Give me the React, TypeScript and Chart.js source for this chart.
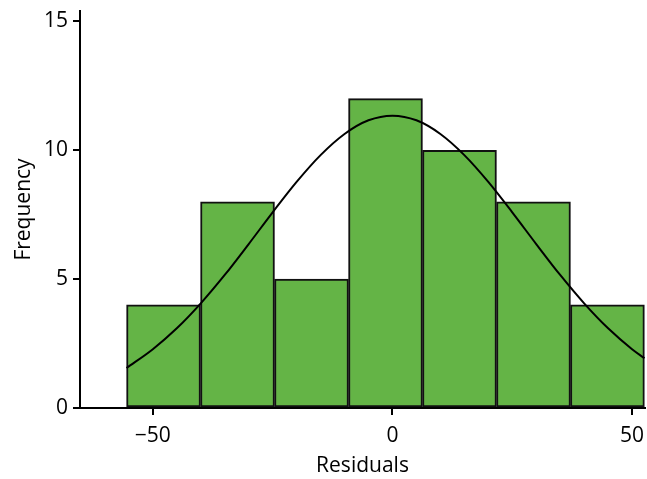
import React, { useEffect, useRef } from "react";
import { Chart, registerables } from "chart.js";

Chart.register(...registerables);

// Histogram bins (residual edges) and frequencies
const binEdges = [-55.49, -40.05, -24.61, -9.17, 6.27, 21.71, 37.15, 52.57];
const frequencies = [4, 8, 5, 12, 10, 8, 4];

// Fitted normal curve
const curveX = [-55.5, -50, -45, -40, -35, -30, -25, -20, -15, -10, -5, 0, 5, 10, 15, 20, 25, 30, 35, 40, 45, 50, 52.6];
const curveY = [1.55, 2.28, 3.09, 4.06, 5.16, 6.36, 7.59, 8.77, 9.81, 10.63, 11.16, 11.34, 11.16, 10.63, 9.81, 8.77, 7.59, 6.36, 5.16, 4.06, 3.09, 2.28, 1.93];

const xTicks = [-50, 0, 50];
const yTicks = [0, 5, 10, 15];

const X_MIN = -65.2;
const X_MAX = 52.7;
const Y_MAX = 15.4;

const FONT = "'Open Sans', 'DejaVu Sans', sans-serif";

export default function App() {
  const ref = useRef<HTMLCanvasElement>(null);

  useEffect(() => {
    if (!ref.current) return;
    const barData = frequencies.map((f, i) => ({ x: (binEdges[i] + binEdges[i + 1]) / 2, y: f }));
    const lineData = curveX.map((x, i) => ({ x, y: curveY[i] }));
    const chart = new Chart(ref.current, {
      type: "bar",
      data: {
        datasets: [
          {
            type: "line",
            data: lineData,
            borderColor: "#000",
            borderWidth: 2,
            pointRadius: 0,
            cubicInterpolationMode: "monotone",
            fill: false,
            order: 0,
          } as any,
          {
            type: "bar",
            data: barData,
            backgroundColor: "#64b446",
            borderColor: "#111",
            borderWidth: 2,
            borderSkipped: false,
            categoryPercentage: 1,
            barPercentage: 1,
            order: 1,
          } as any,
        ],
      },
      options: {
        responsive: false,
        animation: false,
        layout: { padding: { top: 11, right: 2, left: 0, bottom: 0 } },
        plugins: { legend: { display: false }, tooltip: { enabled: false } },
        scales: {
          x: {
            type: "linear",
            min: X_MIN,
            max: X_MAX,
            offset: false,
            afterBuildTicks: (s: any) => {
              s.ticks = xTicks.map((v) => ({ value: v }));
            },
            afterFit: (s: any) => {
              s.height = 71;
              s.paddingLeft = 0;
              s.paddingRight = 0;
            },
            grid: { display: true, offset: false, drawOnChartArea: false, drawTicks: true, tickLength: 7, color: "#000", lineWidth: 2 },
            border: { display: true, color: "#000", width: 2 },
            ticks: {
              color: "#000",
              font: { family: FONT, size: 21 },
              padding: 8,
              maxRotation: 0,
              callback: (v: any) => (Number(v) < 0 ? "\u2212" + Math.abs(Number(v)) : String(v)),
            },
            title: {
              display: true,
              text: "Residuals",
              color: "#000",
              font: { family: FONT, size: 21 },
              padding: { top: 2, bottom: 0 },
            },
          },
          y: {
            type: "linear",
            min: 0,
            max: Y_MAX,
            afterBuildTicks: (s: any) => {
              s.ticks = yTicks.map((v) => ({ value: v }));
            },
            afterFit: (s: any) => {
              s.width = 80;
              s.paddingTop = 0;
              s.paddingBottom = 0;
            },
            grid: { display: true, drawOnChartArea: false, drawTicks: true, tickLength: 7, color: "#000", lineWidth: 2 },
            border: { display: true, color: "#000", width: 2 },
            ticks: {
              color: "#000",
              font: { family: FONT, size: 21 },
              padding: 5,
            },
            title: {
              display: true,
              text: "Frequency",
              color: "#000",
              font: { family: FONT, size: 21 },
              padding: { top: 11, bottom: 0 },
            },
          },
        },
      },
    });
    return () => chart.destroy();
  }, []);

  return (
    <div style={{ position: "fixed", left: 0, top: 0, width: 647, height: 479, background: "#fff" }}>
      <canvas ref={ref} width={647} height={479} />
    </div>
  );
}
